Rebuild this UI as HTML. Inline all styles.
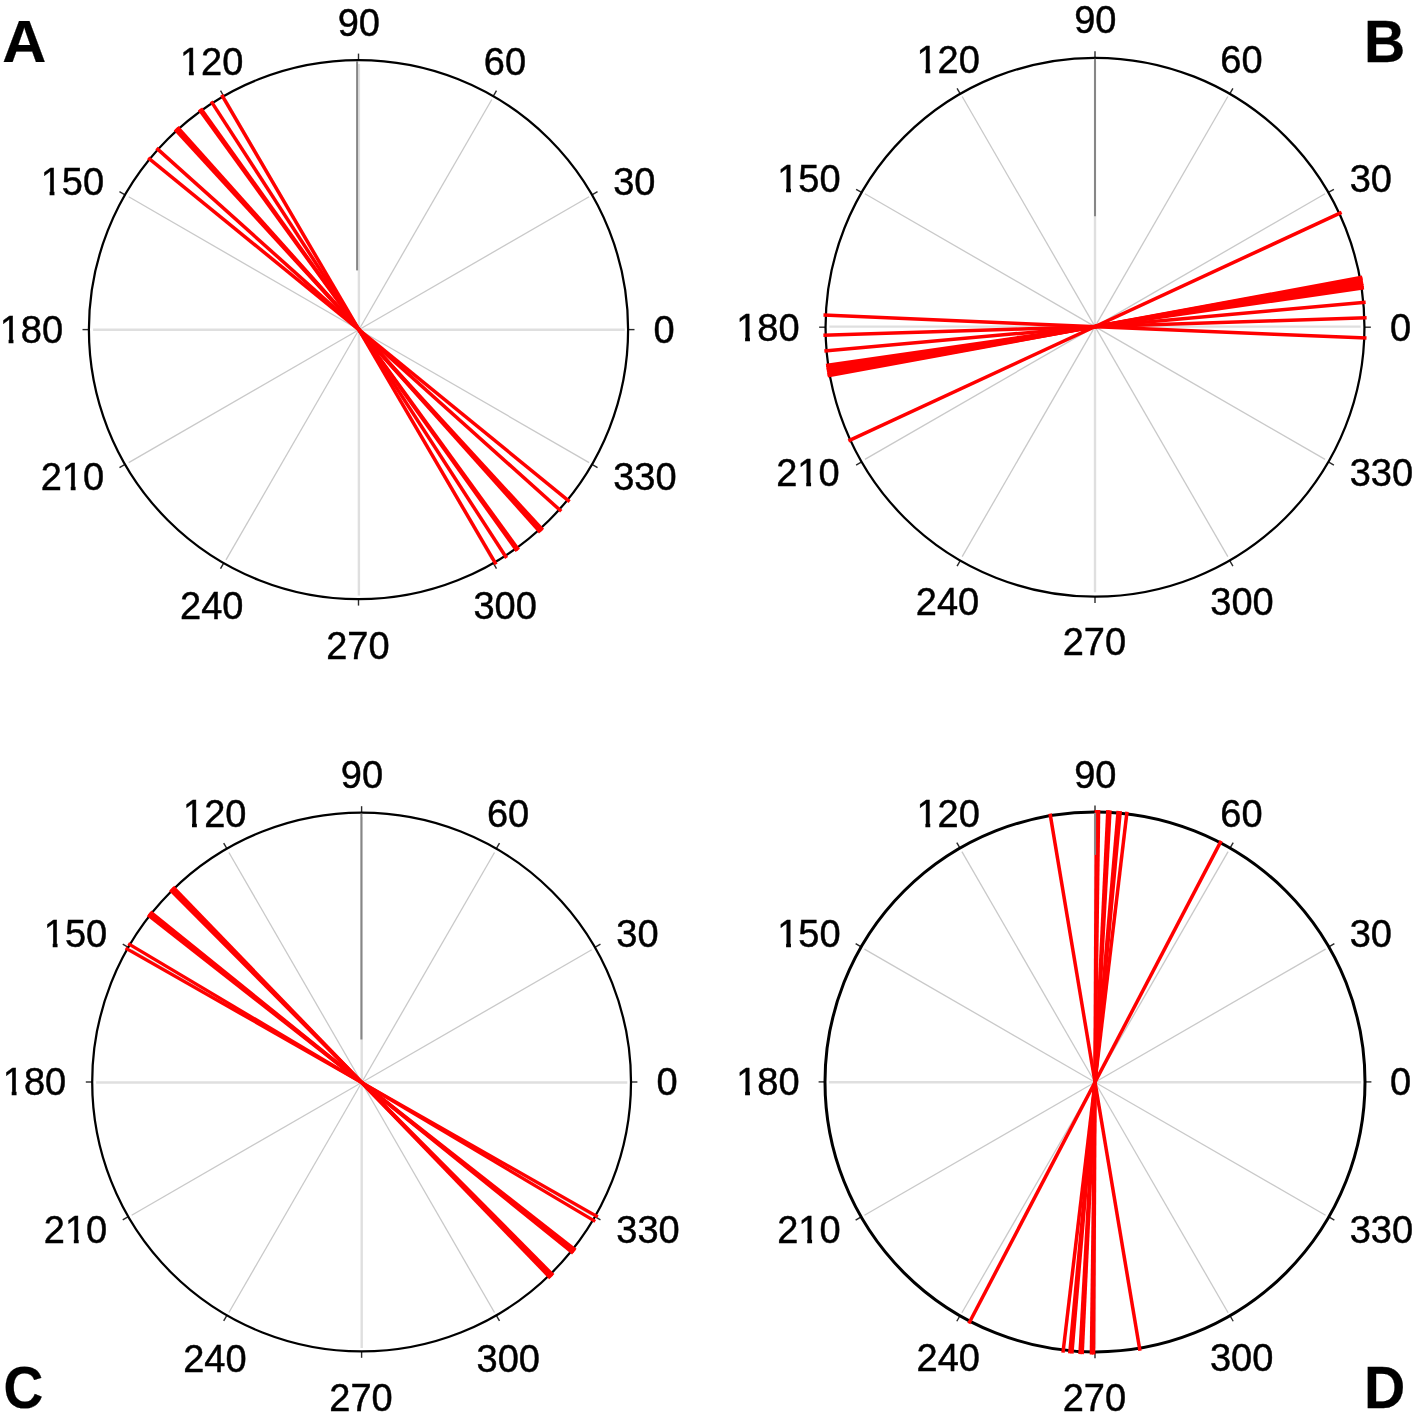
<!DOCTYPE html>
<html><head><meta charset="utf-8"><title>Polar plots</title>
<style>
html,body{margin:0;padding:0;background:#fff;}
svg{display:block;filter:blur(0.45px);}
text{font-family:"Liberation Sans",sans-serif;fill:#000;}
.lab{font-size:38px;stroke:#000;stroke-width:0.45px;}
.let{font-size:59.5px;font-weight:bold;stroke:#000;stroke-width:0.25px;}
.sp{stroke:#c9c9c9;stroke-width:1.3;}
.sh{stroke:#dfdfdf;stroke-width:2.4;}
.dk{stroke:#868686;stroke-width:2.0;}
.tk{stroke:#2b2b2b;stroke-width:1.4;}
.rd{stroke:#ff0000;}
</style></head><body>
<svg width="1416" height="1415" viewBox="0 0 1416 1415">
<rect width="1416" height="1415" fill="#fff"/>
<g id="plotA">
<line class="sh" x1="358.90" y1="329.70" x2="624.70" y2="329.70"/>
<line class="sp" x1="358.90" y1="329.70" x2="589.09" y2="196.80"/>
<line class="sp" x1="358.90" y1="329.70" x2="491.80" y2="99.51"/>
<line class="sh" x1="358.90" y1="329.70" x2="358.90" y2="63.90"/>
<line class="sp" x1="358.90" y1="329.70" x2="226.00" y2="99.51"/>
<line class="sp" x1="358.90" y1="329.70" x2="128.71" y2="196.80"/>
<line class="sh" x1="358.90" y1="329.70" x2="93.10" y2="329.70"/>
<line class="sp" x1="358.90" y1="329.70" x2="128.71" y2="462.60"/>
<line class="sp" x1="358.90" y1="329.70" x2="226.00" y2="559.89"/>
<line class="sh" x1="358.90" y1="329.70" x2="358.90" y2="595.50"/>
<line class="sp" x1="358.90" y1="329.70" x2="491.80" y2="559.89"/>
<line class="sp" x1="358.90" y1="329.70" x2="589.09" y2="462.60"/>
<line class="tk" x1="628.10" y1="329.60" x2="634.50" y2="329.60"/>
<line class="tk" x1="591.98" y1="194.80" x2="597.52" y2="191.60"/>
<line class="tk" x1="493.30" y1="96.12" x2="496.50" y2="90.58"/>
<line class="tk" x1="358.50" y1="60.00" x2="358.50" y2="53.60"/>
<line class="tk" x1="223.70" y1="96.12" x2="220.50" y2="90.58"/>
<line class="tk" x1="125.02" y1="194.80" x2="119.48" y2="191.60"/>
<line class="tk" x1="88.90" y1="329.60" x2="82.50" y2="329.60"/>
<line class="tk" x1="125.02" y1="464.40" x2="119.48" y2="467.60"/>
<line class="tk" x1="223.70" y1="563.08" x2="220.50" y2="568.62"/>
<line class="tk" x1="358.50" y1="599.20" x2="358.50" y2="605.60"/>
<line class="tk" x1="493.30" y1="563.08" x2="496.50" y2="568.62"/>
<line class="tk" x1="591.98" y1="464.40" x2="597.52" y2="467.60"/>
<circle cx="358.5" cy="329.6" r="269.6" fill="none" stroke="#000" stroke-width="2.25"/>
<line class="rd" x1="221.72" y1="94.94" x2="496.08" y2="564.46" stroke-width="3.5"/>
<line class="rd" x1="211.21" y1="101.41" x2="506.59" y2="557.99" stroke-width="3.5"/>
<line class="rd" x1="200.81" y1="108.48" x2="516.99" y2="550.92" stroke-width="3.5"/>
<line class="rd" x1="199.27" y1="109.59" x2="518.53" y2="549.81" stroke-width="3.5"/>
<line class="rd" x1="177.49" y1="127.16" x2="540.31" y2="532.24" stroke-width="3.5"/>
<line class="rd" x1="176.26" y1="128.28" x2="541.54" y2="531.12" stroke-width="3.5"/>
<line class="rd" x1="175.03" y1="129.39" x2="542.77" y2="530.01" stroke-width="3.5"/>
<line class="rd" x1="156.52" y1="148.12" x2="561.28" y2="511.28" stroke-width="3.5"/>
<line class="rd" x1="148.19" y1="157.85" x2="569.61" y2="501.55" stroke-width="3.5"/>
<line class="dk" x1="357.10" y1="270.40" x2="357.10" y2="61.00"/>
<text class="lab" x="358.8" y="35.6" text-anchor="middle">90</text>
<text class="lab" x="505.0" y="74.8" text-anchor="middle">60</text>
<text class="lab" x="613.2" y="194.8" text-anchor="start">30</text>
<text class="lab" x="653.4" y="342.8" text-anchor="start">0</text>
<text class="lab" x="613.2" y="490.4" text-anchor="start">330</text>
<text class="lab" x="505.2" y="619.1" text-anchor="middle">300</text>
<text class="lab" x="357.9" y="658.6" text-anchor="middle">270</text>
<text class="lab" x="211.8" y="619.1" text-anchor="middle">240</text>
<text class="lab" x="104.1" y="490.4" text-anchor="end">210</text>
<rect x="62.83" y="485.65" width="7.90" height="6.2" fill="#fff"/>
<rect x="75.58" y="485.65" width="6.60" height="6.2" fill="#fff"/>
<text class="lab" x="63.1" y="342.8" text-anchor="end">180</text>
<rect x="0.70" y="338.05" width="7.90" height="6.2" fill="#fff"/>
<rect x="13.45" y="338.05" width="6.60" height="6.2" fill="#fff"/>
<text class="lab" x="104.1" y="194.8" text-anchor="end">150</text>
<rect x="41.70" y="190.05" width="7.90" height="6.2" fill="#fff"/>
<rect x="54.45" y="190.05" width="6.60" height="6.2" fill="#fff"/>
<text class="lab" x="211.7" y="74.8" text-anchor="middle">120</text>
<rect x="181.00" y="70.05" width="7.90" height="6.2" fill="#fff"/>
<rect x="193.75" y="70.05" width="6.60" height="6.2" fill="#fff"/>
<text class="let" transform="translate(2.3 62.3) scale(1.025 1)" x="0" y="0">A</text>
</g>
<g id="plotB">
<line class="sh" x1="1095.00" y1="326.60" x2="1360.65" y2="326.60"/>
<line class="sp" x1="1095.00" y1="326.60" x2="1325.06" y2="193.78"/>
<line class="sp" x1="1095.00" y1="326.60" x2="1227.83" y2="96.54"/>
<line class="sh" x1="1095.00" y1="326.60" x2="1095.00" y2="60.95"/>
<line class="sp" x1="1095.00" y1="326.60" x2="962.18" y2="96.54"/>
<line class="sp" x1="1095.00" y1="326.60" x2="864.94" y2="193.78"/>
<line class="sh" x1="1095.00" y1="326.60" x2="829.35" y2="326.60"/>
<line class="sp" x1="1095.00" y1="326.60" x2="864.94" y2="459.42"/>
<line class="sp" x1="1095.00" y1="326.60" x2="962.17" y2="556.66"/>
<line class="sh" x1="1095.00" y1="326.60" x2="1095.00" y2="592.25"/>
<line class="sp" x1="1095.00" y1="326.60" x2="1227.83" y2="556.66"/>
<line class="sp" x1="1095.00" y1="326.60" x2="1325.06" y2="459.43"/>
<line class="tk" x1="1364.45" y1="327.20" x2="1370.85" y2="327.20"/>
<line class="tk" x1="1328.35" y1="192.48" x2="1333.89" y2="189.28"/>
<line class="tk" x1="1229.72" y1="93.85" x2="1232.92" y2="88.31"/>
<line class="tk" x1="1095.00" y1="57.75" x2="1095.00" y2="51.35"/>
<line class="tk" x1="960.28" y1="93.85" x2="957.08" y2="88.31"/>
<line class="tk" x1="861.65" y1="192.48" x2="856.11" y2="189.28"/>
<line class="tk" x1="825.55" y1="327.20" x2="819.15" y2="327.20"/>
<line class="tk" x1="861.65" y1="461.93" x2="856.11" y2="465.12"/>
<line class="tk" x1="960.27" y1="560.55" x2="957.07" y2="566.09"/>
<line class="tk" x1="1095.00" y1="596.65" x2="1095.00" y2="603.05"/>
<line class="tk" x1="1229.72" y1="560.55" x2="1232.92" y2="566.09"/>
<line class="tk" x1="1328.35" y1="461.93" x2="1333.89" y2="465.13"/>
<circle cx="1095" cy="327.2" r="269.45" fill="none" stroke="#000" stroke-width="2.25"/>
<line class="rd" x1="1341.59" y1="212.40" x2="848.41" y2="440.80" stroke-width="3.5"/>
<line class="rd" x1="1363.97" y1="287.84" x2="826.03" y2="365.36" stroke-width="3.5"/>
<line class="rd" x1="1363.62" y1="285.49" x2="826.38" y2="367.71" stroke-width="3.5"/>
<line class="rd" x1="1363.25" y1="283.15" x2="826.75" y2="370.05" stroke-width="3.5"/>
<line class="rd" x1="1362.86" y1="280.81" x2="827.14" y2="372.39" stroke-width="3.5"/>
<line class="rd" x1="1362.46" y1="278.48" x2="827.54" y2="374.72" stroke-width="3.5"/>
<line class="rd" x1="1362.24" y1="277.31" x2="827.76" y2="375.89" stroke-width="3.5"/>
<line class="rd" x1="1365.65" y1="302.21" x2="824.35" y2="350.99" stroke-width="3.5"/>
<line class="rd" x1="1366.61" y1="317.83" x2="823.39" y2="335.37" stroke-width="3.5"/>
<line class="rd" x1="1366.51" y1="338.12" x2="823.49" y2="315.08" stroke-width="3.5"/>
<line class="dk" x1="1095.00" y1="216.20" x2="1095.00" y2="58.75"/>
<text class="lab" x="1095.3" y="32.6" text-anchor="middle">90</text>
<text class="lab" x="1241.5" y="72.6" text-anchor="middle">60</text>
<text class="lab" x="1349.7" y="192.4" text-anchor="start">30</text>
<text class="lab" x="1389.9" y="340.7" text-anchor="start">0</text>
<text class="lab" x="1349.7" y="486.4" text-anchor="start">330</text>
<text class="lab" x="1242.0" y="615.1" text-anchor="middle">300</text>
<text class="lab" x="1094.4" y="655.2" text-anchor="middle">270</text>
<text class="lab" x="947.5" y="615.1" text-anchor="middle">240</text>
<text class="lab" x="839.6" y="486.4" text-anchor="end">210</text>
<rect x="798.33" y="481.65" width="7.90" height="6.2" fill="#fff"/>
<rect x="811.08" y="481.65" width="6.60" height="6.2" fill="#fff"/>
<text class="lab" x="799.6" y="340.7" text-anchor="end">180</text>
<rect x="737.20" y="335.95" width="7.90" height="6.2" fill="#fff"/>
<rect x="749.95" y="335.95" width="6.60" height="6.2" fill="#fff"/>
<text class="lab" x="840.6" y="192.4" text-anchor="end">150</text>
<rect x="778.20" y="187.65" width="7.90" height="6.2" fill="#fff"/>
<rect x="790.95" y="187.65" width="6.60" height="6.2" fill="#fff"/>
<text class="lab" x="948.2" y="72.6" text-anchor="middle">120</text>
<rect x="917.50" y="67.85" width="7.90" height="6.2" fill="#fff"/>
<rect x="930.25" y="67.85" width="6.60" height="6.2" fill="#fff"/>
<text class="let" transform="translate(1364.0 62.3) scale(0.96 1)" x="0" y="0">B</text>
</g>
<g id="plotC">
<line class="sh" x1="361.70" y1="1082.50" x2="627.30" y2="1082.50"/>
<line class="sp" x1="361.70" y1="1082.50" x2="591.72" y2="949.70"/>
<line class="sp" x1="361.70" y1="1082.50" x2="494.50" y2="852.48"/>
<line class="sh" x1="361.70" y1="1082.50" x2="361.70" y2="816.90"/>
<line class="sp" x1="361.70" y1="1082.50" x2="228.90" y2="852.48"/>
<line class="sp" x1="361.70" y1="1082.50" x2="131.68" y2="949.70"/>
<line class="sh" x1="361.70" y1="1082.50" x2="96.10" y2="1082.50"/>
<line class="sp" x1="361.70" y1="1082.50" x2="131.68" y2="1215.30"/>
<line class="sp" x1="361.70" y1="1082.50" x2="228.90" y2="1312.52"/>
<line class="sh" x1="361.70" y1="1082.50" x2="361.70" y2="1348.10"/>
<line class="sp" x1="361.70" y1="1082.50" x2="494.50" y2="1312.52"/>
<line class="sp" x1="361.70" y1="1082.50" x2="591.72" y2="1215.30"/>
<line class="tk" x1="631.00" y1="1082.00" x2="637.40" y2="1082.00"/>
<line class="tk" x1="594.91" y1="947.30" x2="600.45" y2="944.10"/>
<line class="tk" x1="496.30" y1="848.69" x2="499.50" y2="843.15"/>
<line class="tk" x1="361.60" y1="812.60" x2="361.60" y2="806.20"/>
<line class="tk" x1="226.90" y1="848.69" x2="223.70" y2="843.15"/>
<line class="tk" x1="128.29" y1="947.30" x2="122.75" y2="944.10"/>
<line class="tk" x1="92.20" y1="1082.00" x2="85.80" y2="1082.00"/>
<line class="tk" x1="128.29" y1="1216.70" x2="122.75" y2="1219.90"/>
<line class="tk" x1="226.90" y1="1315.31" x2="223.70" y2="1320.85"/>
<line class="tk" x1="361.60" y1="1351.40" x2="361.60" y2="1357.80"/>
<line class="tk" x1="496.30" y1="1315.31" x2="499.50" y2="1320.85"/>
<line class="tk" x1="594.91" y1="1216.70" x2="600.45" y2="1219.90"/>
<circle cx="361.6" cy="1082" r="269.4" fill="none" stroke="#000" stroke-width="2.25"/>
<line class="rd" x1="172.96" y1="887.06" x2="550.44" y2="1277.94" stroke-width="3.5"/>
<line class="rd" x1="171.60" y1="888.38" x2="551.80" y2="1276.62" stroke-width="3.5"/>
<line class="rd" x1="170.25" y1="889.71" x2="553.15" y2="1275.29" stroke-width="3.5"/>
<line class="rd" x1="150.25" y1="911.88" x2="573.15" y2="1253.12" stroke-width="3.5"/>
<line class="rd" x1="149.07" y1="913.36" x2="574.33" y2="1251.64" stroke-width="3.5"/>
<line class="rd" x1="147.89" y1="914.85" x2="575.51" y2="1250.15" stroke-width="3.5"/>
<line class="rd" x1="128.20" y1="943.58" x2="595.20" y2="1221.42" stroke-width="3.3"/>
<line class="rd" x1="125.58" y1="948.09" x2="597.82" y2="1216.91" stroke-width="3.3"/>
<line class="dk" x1="361.40" y1="1039.50" x2="361.40" y2="813.60"/>
<text class="lab" x="361.9" y="788.0" text-anchor="middle">90</text>
<text class="lab" x="508.1" y="827.2" text-anchor="middle">60</text>
<text class="lab" x="616.3" y="947.2" text-anchor="start">30</text>
<text class="lab" x="656.5" y="1095.2" text-anchor="start">0</text>
<text class="lab" x="616.3" y="1242.8" text-anchor="start">330</text>
<text class="lab" x="508.3" y="1371.5" text-anchor="middle">300</text>
<text class="lab" x="361.0" y="1411.0" text-anchor="middle">270</text>
<text class="lab" x="214.9" y="1371.5" text-anchor="middle">240</text>
<text class="lab" x="107.2" y="1242.8" text-anchor="end">210</text>
<rect x="65.93" y="1238.05" width="7.90" height="6.2" fill="#fff"/>
<rect x="78.68" y="1238.05" width="6.60" height="6.2" fill="#fff"/>
<text class="lab" x="66.2" y="1095.2" text-anchor="end">180</text>
<rect x="3.80" y="1090.45" width="7.90" height="6.2" fill="#fff"/>
<rect x="16.55" y="1090.45" width="6.60" height="6.2" fill="#fff"/>
<text class="lab" x="107.2" y="947.2" text-anchor="end">150</text>
<rect x="44.80" y="942.45" width="7.90" height="6.2" fill="#fff"/>
<rect x="57.55" y="942.45" width="6.60" height="6.2" fill="#fff"/>
<text class="lab" x="214.8" y="827.2" text-anchor="middle">120</text>
<rect x="184.10" y="822.45" width="7.90" height="6.2" fill="#fff"/>
<rect x="196.85" y="822.45" width="6.60" height="6.2" fill="#fff"/>
<text class="let" transform="translate(3.4 1407.7) scale(0.925 1)" x="0" y="0">C</text>
</g>
<g id="plotD">
<line class="sh" x1="1095.00" y1="1082.20" x2="1361.20" y2="1082.20"/>
<line class="sp" x1="1095.00" y1="1082.20" x2="1325.54" y2="949.10"/>
<line class="sp" x1="1095.00" y1="1082.20" x2="1228.10" y2="851.66"/>
<line class="sh" x1="1095.00" y1="1082.20" x2="1095.00" y2="816.00"/>
<line class="sp" x1="1095.00" y1="1082.20" x2="961.90" y2="851.66"/>
<line class="sp" x1="1095.00" y1="1082.20" x2="864.46" y2="949.10"/>
<line class="sh" x1="1095.00" y1="1082.20" x2="828.80" y2="1082.20"/>
<line class="sp" x1="1095.00" y1="1082.20" x2="864.46" y2="1215.30"/>
<line class="sp" x1="1095.00" y1="1082.20" x2="961.90" y2="1312.74"/>
<line class="sh" x1="1095.00" y1="1082.20" x2="1095.00" y2="1348.40"/>
<line class="sp" x1="1095.00" y1="1082.20" x2="1228.10" y2="1312.74"/>
<line class="sp" x1="1095.00" y1="1082.20" x2="1325.54" y2="1215.30"/>
<line class="tk" x1="1365.00" y1="1081.90" x2="1371.40" y2="1081.90"/>
<line class="tk" x1="1328.83" y1="946.90" x2="1334.37" y2="943.70"/>
<line class="tk" x1="1230.00" y1="848.07" x2="1233.20" y2="842.53"/>
<line class="tk" x1="1095.00" y1="811.90" x2="1095.00" y2="805.50"/>
<line class="tk" x1="960.00" y1="848.07" x2="956.80" y2="842.53"/>
<line class="tk" x1="861.17" y1="946.90" x2="855.63" y2="943.70"/>
<line class="tk" x1="825.00" y1="1081.90" x2="818.60" y2="1081.90"/>
<line class="tk" x1="861.17" y1="1216.90" x2="855.63" y2="1220.10"/>
<line class="tk" x1="960.00" y1="1315.73" x2="956.80" y2="1321.27"/>
<line class="tk" x1="1095.00" y1="1351.90" x2="1095.00" y2="1358.30"/>
<line class="tk" x1="1230.00" y1="1315.73" x2="1233.20" y2="1321.27"/>
<line class="tk" x1="1328.83" y1="1216.90" x2="1334.37" y2="1220.10"/>
<circle cx="1095" cy="1081.9" r="270.0" fill="none" stroke="#000" stroke-width="3.0"/>
<line class="rd" x1="1221.16" y1="840.89" x2="968.84" y2="1323.51" stroke-width="3.5"/>
<line class="rd" x1="1127.01" y1="811.79" x2="1062.99" y2="1352.61" stroke-width="3.5"/>
<line class="rd" x1="1120.27" y1="811.08" x2="1069.73" y2="1353.32" stroke-width="3.5"/>
<line class="rd" x1="1118.14" y1="810.89" x2="1071.86" y2="1353.51" stroke-width="3.5"/>
<line class="rd" x1="1109.99" y1="810.31" x2="1080.01" y2="1354.09" stroke-width="3.5"/>
<line class="rd" x1="1107.85" y1="810.20" x2="1082.15" y2="1354.20" stroke-width="3.5"/>
<line class="rd" x1="1098.59" y1="809.92" x2="1091.41" y2="1354.48" stroke-width="3.5"/>
<line class="rd" x1="1096.45" y1="809.90" x2="1093.55" y2="1354.50" stroke-width="3.5"/>
<line class="rd" x1="1050.06" y1="813.63" x2="1139.94" y2="1350.77" stroke-width="3.5"/>
<line class="dk" x1="1095.10" y1="854.90" x2="1095.10" y2="812.90"/>
<text class="lab" x="1095.3" y="787.9" text-anchor="middle">90</text>
<text class="lab" x="1241.5" y="827.1" text-anchor="middle">60</text>
<text class="lab" x="1349.7" y="947.1" text-anchor="start">30</text>
<text class="lab" x="1389.9" y="1095.1" text-anchor="start">0</text>
<text class="lab" x="1349.7" y="1242.7" text-anchor="start">330</text>
<text class="lab" x="1241.7" y="1371.4" text-anchor="middle">300</text>
<text class="lab" x="1094.4" y="1410.9" text-anchor="middle">270</text>
<text class="lab" x="948.3" y="1371.4" text-anchor="middle">240</text>
<text class="lab" x="840.6" y="1242.7" text-anchor="end">210</text>
<rect x="799.33" y="1237.95" width="7.90" height="6.2" fill="#fff"/>
<rect x="812.08" y="1237.95" width="6.60" height="6.2" fill="#fff"/>
<text class="lab" x="799.6" y="1095.1" text-anchor="end">180</text>
<rect x="737.20" y="1090.35" width="7.90" height="6.2" fill="#fff"/>
<rect x="749.95" y="1090.35" width="6.60" height="6.2" fill="#fff"/>
<text class="lab" x="840.6" y="947.1" text-anchor="end">150</text>
<rect x="778.20" y="942.35" width="7.90" height="6.2" fill="#fff"/>
<rect x="790.95" y="942.35" width="6.60" height="6.2" fill="#fff"/>
<text class="lab" x="948.2" y="827.1" text-anchor="middle">120</text>
<rect x="917.50" y="822.35" width="7.90" height="6.2" fill="#fff"/>
<rect x="930.25" y="822.35" width="6.60" height="6.2" fill="#fff"/>
<text class="let" transform="translate(1364.0 1407.8) scale(0.96 1)" x="0" y="0">D</text>
</g>
</svg>
</body></html>
